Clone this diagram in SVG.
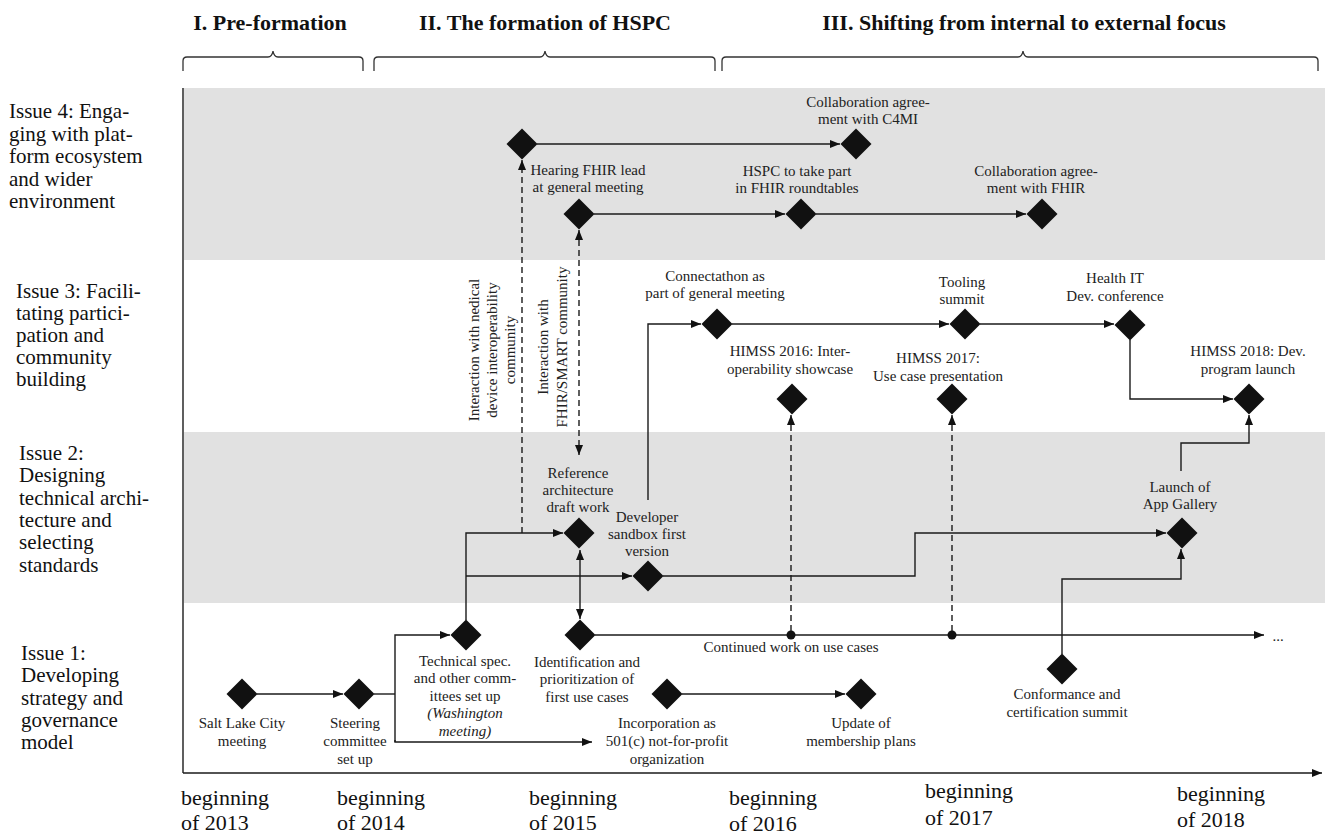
<svg xmlns="http://www.w3.org/2000/svg" width="1325" height="834" viewBox="0 0 1325 834">
<defs>
<style>
text{font-family:"Liberation Serif","Times New Roman",serif;fill:#222}
.t{font-size:15px;text-anchor:middle}
.it{font-style:italic}
.iss{font-size:21px;fill:#111}
.yr{font-size:22px;fill:#111}
.ttl{font-size:22px;font-weight:bold;text-anchor:middle;fill:#111}
.band{fill:#e1e1e1}
.dm{fill:#111}
.ln{fill:none;stroke:#1a1a1a;stroke-width:1.4}
.da{fill:none;stroke:#1a1a1a;stroke-width:1.4;stroke-dasharray:6 4}
.br{fill:none;stroke:#333;stroke-width:1.3}
</style>
<marker id="ah" viewBox="0 0 10 8" refX="10" refY="4" markerWidth="10" markerHeight="8" markerUnits="userSpaceOnUse" orient="auto-start-reverse">
<path d="M0,0 L10,4 L0,8 z" fill="#111"/>
</marker>
<polygon id="dia" points="0,-15.5 15.5,0 0,15.5 -15.5,0"/>
</defs>
<rect width="1325" height="834" fill="#fff"/>

<g id="phases">
<text class="ttl" x="270" y="30">I. Pre-formation</text>
<text class="ttl" x="545" y="30">II. The formation of HSPC</text>
<text class="ttl" x="1024" y="30">III. Shifting from internal to external focus</text>
<path class="br" d="M183,71 L183,61 Q183,57 187,57 L268,57 Q272,57 273,51 Q274,57 278,57 L359,57 Q363,57 363,61 L363,71"/>
<path class="br" d="M374,71 L374,61 Q374,57 378,57 L540,57 Q544,57 545,51 Q546,57 550,57 L711,57 Q715,57 715,61 L715,71"/>
<path class="br" d="M722,71 L722,61 Q722,57 726,57 L1018,57 Q1022,57 1023,51 Q1024,57 1028,57 L1314,57 Q1318,57 1318,61 L1318,71"/>
</g>

<g id="bands">
<rect class="band" x="184" y="88" width="1141" height="172"/>
<rect class="band" x="184" y="432" width="1141" height="171"/>
</g>

<g id="issues">
<text class="iss" x="9"><tspan x="9" y="118">Issue 4: Enga-</tspan><tspan x="9" y="140.5">ging with plat-</tspan><tspan x="9" y="163">form ecosystem</tspan><tspan x="9" y="185.5">and wider</tspan><tspan x="9" y="208">environment</tspan></text>
<text class="iss" x="16"><tspan x="16" y="298">Issue 3: Facili-</tspan><tspan x="16" y="320">tating partici-</tspan><tspan x="16" y="342">pation and</tspan><tspan x="16" y="364">community</tspan><tspan x="16" y="386">building</tspan></text>
<text class="iss" x="19"><tspan x="19" y="460">Issue 2:</tspan><tspan x="19" y="482">Designing</tspan><tspan x="19" y="505">technical archi-</tspan><tspan x="19" y="527">tecture and</tspan><tspan x="19" y="549">selecting</tspan><tspan x="19" y="572">standards</tspan></text>
<text class="iss" x="21"><tspan x="21" y="660">Issue 1:</tspan><tspan x="21" y="682">Developing</tspan><tspan x="21" y="705">strategy and</tspan><tspan x="21" y="727">governance</tspan><tspan x="21" y="749">model</tspan></text>
</g>

<g id="axis">
<line class="ln" x1="183" y1="88" x2="183" y2="773"/>
<line class="ln" x1="183" y1="773" x2="1322" y2="773" marker-end="url(#ah)"/>
<text class="yr"><tspan x="181" y="805">beginning</tspan><tspan x="181" y="830">of 2013</tspan></text>
<text class="yr"><tspan x="337" y="805">beginning</tspan><tspan x="337" y="830">of 2014</tspan></text>
<text class="yr"><tspan x="529" y="805">beginning</tspan><tspan x="529" y="830">of 2015</tspan></text>
<text class="yr"><tspan x="729" y="805">beginning</tspan><tspan x="729" y="831">of 2016</tspan></text>
<text class="yr"><tspan x="925" y="798">beginning</tspan><tspan x="925" y="825">of 2017</tspan></text>
<text class="yr"><tspan x="1177" y="801">beginning</tspan><tspan x="1177" y="827">of 2018</tspan></text>
</g>

<g id="connectors">
<line class="ln" x1="537" y1="144" x2="840" y2="144" marker-end="url(#ah)"/>
<line class="ln" x1="594" y1="214" x2="785" y2="214" marker-end="url(#ah)"/>
<line class="ln" x1="816" y1="214" x2="1026" y2="214" marker-end="url(#ah)"/>
<line class="da" x1="522" y1="533" x2="522" y2="160" marker-end="url(#ah)"/>
<line class="da" x1="579" y1="230" x2="579" y2="455" marker-start="url(#ah)" marker-end="url(#ah)"/>
<text class="t" transform="translate(479,350) rotate(-90)">Interaction with nedical</text>
<text class="t" transform="translate(497,350) rotate(-90)">device interoperability</text>
<text class="t" transform="translate(515,350) rotate(-90)">community</text>
<text class="t" transform="translate(548,347) rotate(-90)">Interaction with</text>
<text class="t" transform="translate(567,347) rotate(-90)">FHIR/SMART community</text>
<line class="ln" x1="257" y1="694" x2="343" y2="694" marker-end="url(#ah)"/>
<polyline class="ln" points="374,694 395,694"/>
<polyline class="ln" points="395,742 395,635 450,635" marker-end="url(#ah)"/>
<polyline class="ln" points="395,740 395,742 592,742" marker-end="url(#ah)"/>
<line class="ln" x1="682" y1="694" x2="845" y2="694" marker-end="url(#ah)"/>
<polyline class="ln" points="466,620 466,533 563,533" marker-end="url(#ah)"/>
<polyline class="ln" points="466,576 632,576" marker-end="url(#ah)"/>
<line class="ln" x1="580" y1="550" x2="580" y2="619" marker-start="url(#ah)" marker-end="url(#ah)"/>
<line class="ln" x1="595" y1="635" x2="1264" y2="635" marker-end="url(#ah)"/>
<circle cx="791" cy="635" r="4.5" fill="#111"/>
<circle cx="952" cy="635" r="4.5" fill="#111"/>
<text class="t" x="791" y="652">Continued work on use cases</text>
<text class="t" x="1278" y="641">...</text>
<line class="da" x1="791" y1="631" x2="791" y2="415" marker-end="url(#ah)"/>
<line class="da" x1="952" y1="631" x2="952" y2="415" marker-end="url(#ah)"/>
<polyline class="ln" points="663,576 915,576 915,533 1166,533" marker-end="url(#ah)"/>
<polyline class="ln" points="648,500 648,324 701,324" marker-end="url(#ah)"/>
<line class="ln" x1="732" y1="324" x2="949" y2="324" marker-end="url(#ah)"/>
<line class="ln" x1="980" y1="324" x2="1114" y2="324" marker-end="url(#ah)"/>
<polyline class="ln" points="1130,340 1130,399 1233,399" marker-end="url(#ah)"/>
<polyline class="ln" points="1181,471 1181,443 1249,443 1249,415" marker-end="url(#ah)"/>
<polyline class="ln" points="1062,654 1062,579 1181,579 1181,549" marker-end="url(#ah)"/>
</g>

<g id="n-d1"><use href="#dia" class="dm" x="522" y="144"/></g>
<g id="n-hearing"><use href="#dia" class="dm" x="579" y="214"/>
<text class="t"><tspan x="588" y="175">Hearing FHIR lead</tspan><tspan x="588" y="192">at general meeting</tspan></text></g>
<g id="n-c4mi"><use href="#dia" class="dm" x="856" y="144"/>
<text class="t"><tspan x="868" y="107">Collaboration agree-</tspan><tspan x="868" y="124">ment with C4MI</tspan></text></g>
<g id="n-hspc"><use href="#dia" class="dm" x="801" y="214"/>
<text class="t"><tspan x="797" y="176">HSPC to take part</tspan><tspan x="797" y="193">in FHIR roundtables</tspan></text></g>
<g id="n-fhir"><use href="#dia" class="dm" x="1042" y="214"/>
<text class="t"><tspan x="1036" y="176">Collaboration agree-</tspan><tspan x="1036" y="193">ment with FHIR</tspan></text></g>

<g id="n-connectathon"><use href="#dia" class="dm" x="717" y="324"/>
<text class="t"><tspan x="715" y="281">Connectathon as</tspan><tspan x="715" y="298">part of general meeting</tspan></text></g>
<g id="n-himss2016"><use href="#dia" class="dm" x="792" y="399"/>
<text class="t"><tspan x="790" y="356">HIMSS 2016: Inter-</tspan><tspan x="790" y="374">operability showcase</tspan></text></g>
<g id="n-tooling"><use href="#dia" class="dm" x="965" y="324"/>
<text class="t"><tspan x="962" y="287">Tooling</tspan><tspan x="962" y="304">summit</tspan></text></g>
<g id="n-himss2017"><use href="#dia" class="dm" x="952" y="399"/>
<text class="t"><tspan x="938" y="363">HIMSS 2017:</tspan><tspan x="938" y="381">Use case presentation</tspan></text></g>
<g id="n-healthit"><use href="#dia" class="dm" x="1130" y="325"/>
<text class="t"><tspan x="1115" y="283">Health IT</tspan><tspan x="1115" y="301">Dev. conference</tspan></text></g>
<g id="n-himss2018"><use href="#dia" class="dm" x="1249" y="399"/>
<text class="t"><tspan x="1248" y="356">HIMSS 2018: Dev.</tspan><tspan x="1248" y="374">program launch</tspan></text></g>

<g id="n-refarch"><use href="#dia" class="dm" x="579" y="533"/>
<text class="t"><tspan x="578" y="478">Reference</tspan><tspan x="578" y="495">architecture</tspan><tspan x="578" y="512">draft work</tspan></text></g>
<g id="n-sandbox"><use href="#dia" class="dm" x="648" y="576"/>
<text class="t"><tspan x="647" y="522">Developer</tspan><tspan x="647" y="539">sandbox first</tspan><tspan x="647" y="556">version</tspan></text></g>
<g id="n-appgallery"><use href="#dia" class="dm" x="1182" y="533"/>
<text class="t"><tspan x="1180" y="492">Launch of</tspan><tspan x="1180" y="509">App Gallery</tspan></text></g>

<g id="n-saltlake"><use href="#dia" class="dm" x="242" y="694"/>
<text class="t"><tspan x="242" y="728">Salt Lake City</tspan><tspan x="242" y="746">meeting</tspan></text></g>
<g id="n-steering"><use href="#dia" class="dm" x="359" y="694"/>
<text class="t"><tspan x="355" y="728">Steering</tspan><tspan x="355" y="746">committee</tspan><tspan x="355" y="764">set up</tspan></text></g>
<g id="n-techspec"><use href="#dia" class="dm" x="466" y="635"/>
<text class="t"><tspan x="465" y="666">Technical spec.</tspan><tspan x="465" y="683">and other comm-</tspan><tspan x="465" y="701">ittees set up</tspan><tspan class="it" x="465" y="718">(Washington</tspan><tspan class="it" x="465" y="736">meeting)</tspan></text></g>
<g id="n-ident"><use href="#dia" class="dm" x="580" y="635"/>
<text class="t"><tspan x="587" y="667">Identification and</tspan><tspan x="587" y="684">prioritization of</tspan><tspan x="587" y="702">first use cases</tspan></text></g>
<g id="n-incorp"><use href="#dia" class="dm" x="667" y="694"/>
<text class="t"><tspan x="667" y="728">Incorporation as</tspan><tspan x="667" y="746">501(c) not-for-profit</tspan><tspan x="667" y="764">organization</tspan></text></g>
<g id="n-update"><use href="#dia" class="dm" x="861" y="694"/>
<text class="t"><tspan x="861" y="728">Update of</tspan><tspan x="861" y="746">membership plans</tspan></text></g>
<g id="n-conform"><use href="#dia" class="dm" x="1062" y="669"/>
<text class="t"><tspan x="1067" y="699">Conformance and</tspan><tspan x="1067" y="717">certification summit</tspan></text></g>
</svg>
